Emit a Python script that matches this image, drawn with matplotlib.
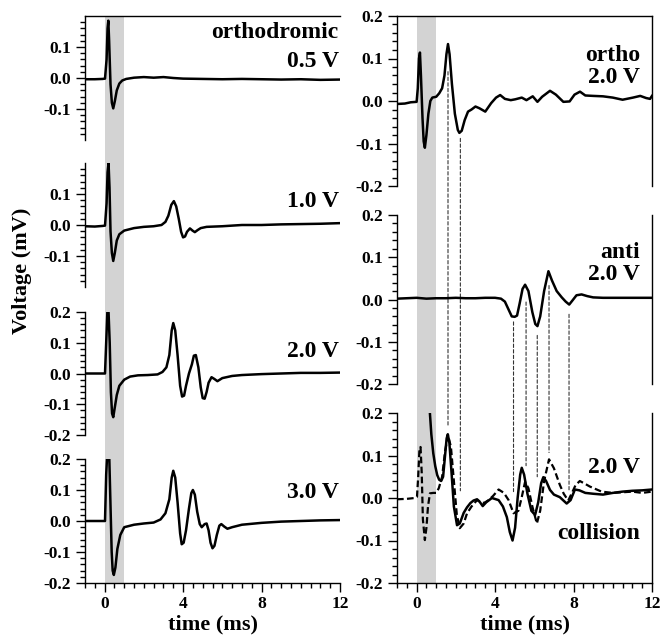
import numpy as np
import matplotlib
matplotlib.use('Agg')
import matplotlib.pyplot as plt
from matplotlib.patches import ConnectionPatch
from matplotlib.ticker import MultipleLocator

plt.rcParams['font.family'] = ['Liberation Serif', 'DejaVu Serif']
plt.rcParams['font.weight'] = 'bold'

# left column: orthodromic responses at increasing stimulus voltage
t05 = [-1, -0.5, -0.1, 0.02, 0.1, 0.15, 0.19, 0.23, 0.3, 0.37, 0.44, 0.52, 0.62, 0.75, 0.9,
       1.1, 1.5, 2.0, 2.5, 3.0, 3.5, 4.0, 5.0, 6.0, 7.0, 8.0, 9.0, 10.0, 11.0, 12.0]
v05 = [-0.004, -0.004, -0.003, -0.002, 0.06, 0.16, 0.185, 0.12, -0.02, -0.08, -0.098, -0.075,
       -0.04, -0.018, -0.008, -0.003, 0.001, 0.003, 0.001, 0.003, 0.0, -0.002, -0.003, -0.004,
       -0.003, -0.004, -0.005, -0.004, -0.006, -0.005]

t10 = [-1, -0.5, -0.1, 0.02, 0.1, 0.15, 0.2, 0.25, 0.3, 0.37, 0.44, 0.52, 0.62, 0.75, 1.0,
       1.5, 2.0, 2.5, 2.9, 3.1, 3.25, 3.4, 3.53, 3.65, 3.78, 3.9, 4.0, 4.1, 4.2, 4.35, 4.48,
       4.6, 4.75, 4.9, 5.2, 6, 7, 8, 9, 10, 11, 12]
v10 = [-0.004, -0.005, -0.003, -0.002, 0.07, 0.17, 0.2, 0.12, -0.02, -0.09, -0.116, -0.09,
       -0.05, -0.03, -0.018, -0.01, -0.006, -0.004, 0.0, 0.01, 0.03, 0.065, 0.077, 0.06, 0.02,
       -0.022, -0.04, -0.037, -0.022, -0.011, -0.018, -0.023, -0.016, -0.01, -0.006, -0.004,
       0.0, 0.0, 0.002, 0.003, 0.004, 0.006]

t20 = [-1, -0.1, 0.02, 0.08, 0.14, 0.2, 0.26, 0.32, 0.38, 0.44, 0.52, 0.62, 0.75, 1.0, 1.3,
       1.7, 2.2, 2.7, 2.95, 3.15, 3.3, 3.42, 3.5, 3.6, 3.72, 3.85, 3.95, 4.05, 4.15, 4.3,
       4.45, 4.55, 4.65, 4.78, 4.9, 5.0, 5.1, 5.2, 5.3, 5.45, 5.6, 5.75, 6.0, 6.5, 7, 8, 9,
       10, 11, 12]
v20 = [0.0, 0.0, 0.0, 0.1, 0.2, 0.2, 0.1, -0.06, -0.13, -0.142, -0.11, -0.07, -0.04, -0.02,
       -0.01, -0.006, -0.005, -0.003, 0.005, 0.02, 0.06, 0.14, 0.164, 0.14, 0.06, -0.04,
       -0.075, -0.072, -0.04, 0.0, 0.03, 0.058, 0.06, 0.02, -0.045, -0.08, -0.082, -0.06,
       -0.03, -0.012, -0.018, -0.025, -0.015, -0.008, -0.005, -0.002, 0.0, 0.002, 0.002, 0.003]

t30 = [-1, -0.1, 0.02, 0.08, 0.12, 0.24, 0.3, 0.36, 0.41, 0.47, 0.55, 0.65, 0.8, 1.0, 1.5,
       2.0, 2.5, 2.85, 3.1, 3.3, 3.42, 3.5, 3.6, 3.72, 3.85, 3.93, 4.03, 4.15, 4.3, 4.42,
       4.5, 4.6, 4.72, 4.85, 4.95, 5.1, 5.2, 5.3, 5.4, 5.5, 5.6, 5.72, 5.85, 5.95, 6.1, 6.26,
       6.5, 7.0, 8, 9, 10, 11, 12]
v30 = [0.0, 0.0, 0.0, 0.15, 0.2, 0.2, 0.05, -0.1, -0.16, -0.174, -0.15, -0.09, -0.045, -0.02,
       -0.012, -0.008, -0.005, 0.005, 0.025, 0.07, 0.14, 0.162, 0.14, 0.06, -0.04, -0.075,
       -0.07, -0.03, 0.04, 0.09, 0.1, 0.085, 0.03, -0.01, -0.02, -0.01, -0.008, -0.03, -0.07,
       -0.088, -0.08, -0.045, -0.015, -0.01, -0.018, -0.025, -0.02, -0.012, -0.006, -0.002,
       0.0, 0.002, 0.003]

left_traces = [(t05, v05), (t10, v10), (t20, v20), (t30, v30)]
left_labels = [['orthodromic', '0.5 V'], ['1.0 V'], ['2.0 V'], ['3.0 V']]

# right column: ortho, anti and collision at 2.0 V
t_ortho = [-1, -0.6, -0.3, 0.0, 0.06, 0.12, 0.17, 0.22, 0.3, 0.36, 0.42, 0.5, 0.6, 0.7, 0.8,
           1.0, 1.15, 1.3, 1.42, 1.52, 1.6, 1.68, 1.8, 1.95, 2.1, 2.18, 2.3, 2.45, 2.62, 2.8,
           3.0, 3.2, 3.5, 3.8, 4.05, 4.26, 4.5, 4.8, 5.03, 5.36, 5.6, 5.92, 6.16, 6.4, 6.8, 7.1,
           7.48, 7.8, 8.05, 8.33, 8.6, 9.0, 9.5, 10.0, 10.5, 11.03, 11.4, 11.7, 11.9, 12.0]
v_ortho = [-0.007, -0.006, -0.003, -0.002, 0.03, 0.1, 0.114, 0.06, -0.04, -0.095, -0.11, -0.08,
           -0.03, 0.0, 0.008, 0.01, 0.018, 0.03, 0.06, 0.11, 0.134, 0.11, 0.04, -0.03, -0.068,
           -0.075, -0.07, -0.045, -0.025, -0.02, -0.013, -0.017, -0.025, -0.005, 0.008, 0.014,
           0.005, 0.002, 0.004, 0.008, 0.002, 0.011, -0.002, 0.01, 0.024, 0.015, -0.002, -0.001,
           0.015, 0.022, 0.013, 0.012, 0.011, 0.008, 0.003, 0.008, 0.012, 0.007, 0.005, 0.012]

t_anti = [-1, -0.5, 0, 0.5, 1, 1.5, 2, 2.5, 3, 3.5, 4.0, 4.3, 4.5, 4.7, 4.85, 5.0, 5.12, 5.25,
          5.4, 5.53, 5.7, 5.9, 6.05, 6.16, 6.3, 6.5, 6.72, 6.9, 7.14, 7.4, 7.6, 7.78, 7.95,
          8.15, 8.41, 8.7, 9.0, 9.5, 10, 11, 12]
v_anti = [0.002, 0.003, 0.004, 0.002, 0.003, 0.003, 0.004, 0.003, 0.003, 0.004, 0.004, 0.002,
          -0.005, -0.025, -0.04, -0.041, -0.038, -0.01, 0.025, 0.035, 0.02, -0.03, -0.058,
          -0.063, -0.04, 0.02, 0.067, 0.045, 0.02, 0.005, -0.005, -0.012, -0.002, 0.01, 0.012,
          0.008, 0.005, 0.004, 0.004, 0.004, 0.004]

t_coll = [0.68, 0.75, 0.85, 0.95, 1.05, 1.15, 1.25, 1.35, 1.45, 1.53, 1.59, 1.67, 1.78, 1.9,
          2.06, 2.2, 2.4, 2.57, 2.74, 2.9, 3.08, 3.2, 3.37, 3.55, 3.84, 4.18, 4.4, 4.6, 4.75,
          4.89, 5.02, 5.15, 5.28, 5.36, 5.48, 5.65, 5.85, 6.04, 6.2, 6.35, 6.46, 6.6, 6.8, 7.0,
          7.3, 7.65, 7.85, 8.07, 8.3, 8.6, 9.0, 9.5, 10.0, 10.5, 11.0, 11.5, 12.0]
v_coll = [0.198, 0.15, 0.105, 0.075, 0.054, 0.043, 0.04, 0.05, 0.1, 0.14, 0.15, 0.13, 0.06,
          -0.02, -0.064, -0.06, -0.035, -0.022, -0.012, -0.006, -0.003, -0.008, -0.019, -0.01,
          0.0, -0.005, -0.02, -0.045, -0.08, -0.1, -0.07, 0.0, 0.055, 0.071, 0.055, 0.01, -0.03,
          -0.04, -0.01, 0.035, 0.049, 0.04, 0.019, 0.008, 0.002, -0.013, -0.005, 0.02, 0.018,
          0.012, 0.01, 0.008, 0.012, 0.015, 0.017, 0.018, 0.02]

t_sum = [-1, -0.5, -0.1, 0.02, 0.08, 0.14, 0.2, 0.26, 0.32, 0.42, 0.5, 0.58, 0.68, 0.85, 1.0,
         1.13, 1.3, 1.45, 1.6, 1.75, 1.9, 2.05, 2.2, 2.4, 2.57, 2.8, 3.08, 3.2, 3.37, 3.5, 3.67,
         3.9, 4.18, 4.45, 4.69, 4.94, 5.19, 5.35, 5.53, 5.7, 5.9, 6.13, 6.3, 6.5, 6.75, 7.0,
         7.3, 7.5, 7.73, 7.95, 8.1, 8.32, 8.6, 8.83, 9.43, 10.0, 11.0, 11.5, 12.0]
v_sum = [-0.003, -0.002, 0.0, 0.003, 0.05, 0.11, 0.12, 0.06, -0.05, -0.099, -0.07, -0.02,
         0.011, 0.012, 0.012, 0.023, 0.05, 0.11, 0.148, 0.12, 0.04, -0.04, -0.071, -0.06,
         -0.036, -0.02, -0.005, -0.008, -0.012, -0.01, -0.005, 0.005, 0.02, 0.012, -0.005,
         -0.036, -0.03, 0.0, 0.038, 0.023, -0.02, -0.06, -0.03, 0.04, 0.091, 0.07, 0.031, 0.01,
         -0.006, 0.015, 0.03, 0.04, 0.033, 0.027, 0.015, 0.012, 0.015, 0.012, 0.015]

# guide lines: time, value in source panel, value in collision panel
ortho_guides = [(1.6, 0.069, 0.168), (2.23, -0.088, 0.017)]
anti_guides = [(4.94, -0.053, 0.015), (5.58, -0.006, 0.076), (6.15, -0.085, 0.05),
               (6.75, 0.033, 0.107), (7.77, -0.035, 0.017)]

W, H = 661, 644
LABEL_SIZE = 17
fig = plt.figure(figsize=(W / 100, H / 100), dpi=100)


def px_axes(x0, x1, y0, y1):
    return fig.add_axes([x0 / W, 1 - y1 / H, (x1 - x0) / W, (y1 - y0) / H])


def style(ax, bottom, top=False, right=False):
    ax.set_facecolor('none')
    ax.set_xlim(-1, 12)
    ax.set_ylim(-0.2, 0.2)
    ax.spines['top'].set_visible(top)
    ax.spines['right'].set_visible(right)
    ax.spines['bottom'].set_visible(bottom)
    ax.yaxis.set_major_locator(MultipleLocator(0.1))
    ax.yaxis.set_minor_locator(MultipleLocator(0.02))
    ax.yaxis.set_major_formatter(plt.FuncFormatter(lambda v, p: '%.1f' % v if abs(v) > 1e-9 else '0.0'))
    ax.tick_params(axis='y', which='major', length=6.5, width=1, labelsize=12.5, pad=3.5)
    ax.tick_params(axis='y', which='minor', length=3.5, width=1)
    ax.xaxis.set_major_locator(MultipleLocator(4))
    ax.xaxis.set_minor_locator(MultipleLocator(0.5))
    if bottom:
        ax.tick_params(axis='x', which='major', length=6.5, width=1, labelsize=12.5, pad=3)
        ax.tick_params(axis='x', which='minor', length=3.5, width=1)
        ax.set_xlabel('time (ms)', fontsize=16, fontweight='bold', labelpad=2)
    else:
        ax.tick_params(axis='x', which='both', bottom=False, labelbottom=False)
    for s in ax.spines.values():
        s.set_linewidth(1)


def label(ax, x, y, txt):
    ax.text(x, y, txt, transform=ax.transAxes, ha='right', va='center',
            fontsize=LABEL_SIZE, fontweight='bold')


# shaded stimulus window behind each column
for x0, x1 in [(85, 340), (397, 652)]:
    bg = px_axes(x0, x1, 16, 583)
    bg.set_xlim(-1, 12)
    bg.axvspan(0, 1, color='#d3d3d3', lw=0)
    bg.axis('off')
    bg.set_zorder(0)

left_rows = [(16, 140), (163, 287), (312, 435), (459, 583)]
label_y = [[0.865, 0.63], [0.69], [0.68], [0.73]]
for i, ((y0, y1), (t, v)) in enumerate(zip(left_rows, left_traces)):
    ax = px_axes(85, 340, y0, y1)
    ax.set_zorder(1)
    style(ax, bottom=(i == 3), top=(i == 0))
    if i < 2:
        ax.set_yticks([-0.1, 0.0, 0.1])
        ax.set_yticks(np.arange(-0.18, 0.19, 0.02), minor=True)
    ax.plot(t, v, color='black', lw=1.8)
    for txt, yy in zip(left_labels[i], label_y[i]):
        label(ax, 0.995, yy, txt)

fig.text(0.034, 0.58, 'Voltage (mV)', rotation=90, ha='center', va='center',
         fontsize=16, fontweight='bold')

right_rows = [(16, 186), (215, 384), (413, 583)]
ax_o = px_axes(397, 652, *right_rows[0])
ax_a = px_axes(397, 652, *right_rows[1])
ax_c = px_axes(397, 652, *right_rows[2])
for i, ax in enumerate([ax_o, ax_a, ax_c]):
    ax.set_zorder(1)
    style(ax, bottom=(i == 2), top=(i == 0), right=True)

ax_o.plot(t_ortho, v_ortho, color='black', lw=1.8)
ax_a.plot(t_anti, v_anti, color='black', lw=1.8)
ax_c.plot(t_sum, v_sum, color='black', lw=1.6, ls=(0, (3, 1.5)))
ax_c.plot(t_coll, v_coll, color='black', lw=1.8)

label(ax_o, 0.953, 0.77, 'ortho')
label(ax_o, 0.953, 0.64, '2.0 V')
label(ax_a, 0.953, 0.78, 'anti')
label(ax_a, 0.953, 0.65, '2.0 V')
label(ax_c, 0.953, 0.68, '2.0 V')
label(ax_c, 0.953, 0.29, 'collision')

# dashed guides linking peaks to the collision trace
for src, guides in [(ax_o, ortho_guides), (ax_a, anti_guides)]:
    for t, va, vc in guides:
        con = ConnectionPatch(xyA=(t, va), coordsA=src.transData,
                              xyB=(t, vc), coordsB=ax_c.transData,
                              color='0.2', lw=0.8, ls=(0, (3, 2)))
        fig.add_artist(con)

fig.savefig('out.png', dpi=100)
